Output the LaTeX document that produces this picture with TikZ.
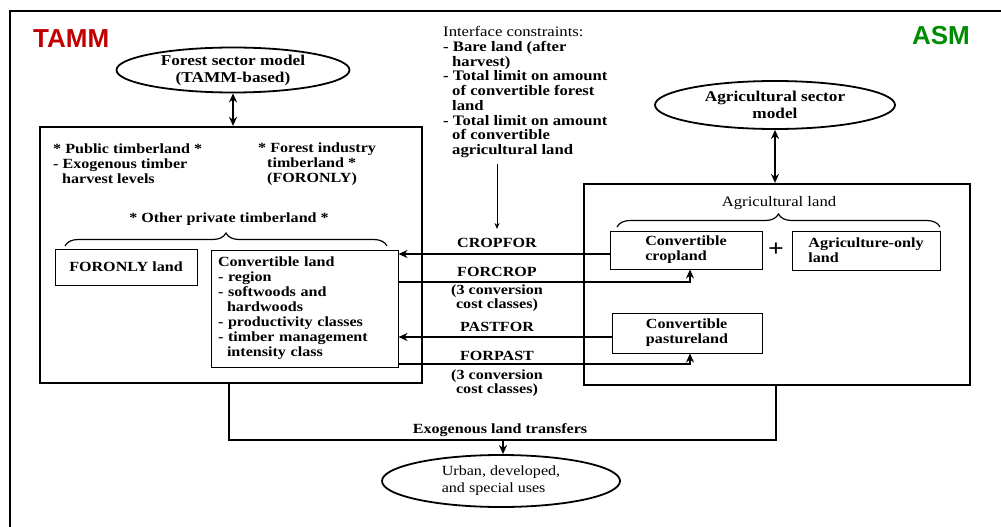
\documentclass[tikz,border=0pt]{standalone}
\usepackage{fontspec}
\setmainfont{Liberation Serif}[FakeStretch=1.15]
\newfontfamily\tammfont{Liberation Sans}
\usetikzlibrary{shapes.geometric,arrows.meta,decorations.pathreplacing}
\definecolor{tammred}{RGB}{192,0,0}
\definecolor{asmgreen}{RGB}{0,140,0}
\newcommand{\ind}{\hspace*{9pt}}
\begin{document}
\begin{tikzpicture}[x=1pt,y=-1pt,
 txt/.style={font=\bfseries\fontsize{14}{15}\selectfont, inner sep=0pt, align=left},
 rtxt/.style={font=\fontsize{14.5}{14.75}\selectfont, inner sep=0pt, align=left},
 lbl/.style={font=\bfseries\fontsize{14}{14}\selectfont, inner sep=0pt, align=center},
 model/.style={ellipse, draw, line width=1.8pt, inner sep=0pt, font=\bfseries\fontsize{15}{17}\selectfont, align=center},
 bigbox/.style={draw, line width=2.2pt, inner sep=0pt},
 landbox/.style={draw, line width=1pt},
 conn/.style={line width=2pt},
 arr/.style={line width=2pt, -{Stealth[length=9pt,width=8pt]}},
 dblarr/.style={line width=2pt, {Stealth[length=9pt,width=8pt]}-{Stealth[length=9pt,width=8pt]}},
 thinarr/.style={line width=1pt, -{Stealth[length=6pt,width=5pt]}},
 bracestyle/.style={decorate, decoration={brace, amplitude=13pt}, line width=1.2pt},
 cornertag/.style={font=\tammfont\bfseries\fontsize{26}{26}\selectfont, inner sep=0pt}
]
\useasboundingbox (0,0) rectangle (1001,527);
\draw[line width=1.5pt] (10,527) -- (10,11) -- (1001,11);

\node[cornertag, text=tammred, anchor=west] (tamm) at (33,39) {TAMM};
\node[cornertag, text=asmgreen, anchor=east] (asm) at (970,36) {ASM};

% forest side
\node[model, minimum width=233pt, minimum height=45pt] (fsm) at (233,70) {Forest sector model\\(TAMM-based)};
\node[bigbox, minimum width=382pt, minimum height=256pt] (lbox) at (231,255) {};
\draw[dblarr] (fsm.south) -- (fsm.south |- lbox.north);

\node[txt, anchor=west] (pub) at (53,164) {* Public timberland *\\- Exogenous timber\\\ind harvest levels};
\node[txt, anchor=west] (fit) at (258,164) {* Forest industry\\\ind timberland *\\\ind (FORONLY)};
\node[txt] (opt) at (229,219) {* Other private timberland *};
\coordinate (lbl1) at (65,246);
\coordinate (lbr1) at (387,246);
\draw[bracestyle] (lbl1) -- (lbr1);

\node[txt, landbox, minimum width=142pt, minimum height=36pt] (fol) at (126,267) {FORONLY land};
\node[txt, landbox, minimum height=117pt, text width=173pt, inner xsep=7pt] (cl) at (304.5,308.5)
 {Convertible land\\- region\\- softwoods and\\\ind hardwoods\\- productivity classes\\- timber management\\\ind intensity class};

% interface
\node[rtxt, anchor=west] (iface) at (443,92) {Interface constraints:\\\textbf{- Bare land (after}\\\textbf{\ind harvest)}\\\textbf{- Total limit on amount}\\\textbf{\ind of convertible forest}\\\textbf{\ind land}\\\textbf{- Total limit on amount}\\\textbf{\ind of convertible}\\\textbf{\ind agricultural land}};
\coordinate (ifend) at (497,229);
\draw[thinarr] ([yshift=-6pt]iface.south -| ifend) -- (ifend);

% agricultural side
\node[model, minimum width=240pt, minimum height=48pt] (asmm) at (775,105) {Agricultural sector\\model};
\node[bigbox, minimum width=386pt, minimum height=201pt] (rbox) at (777,284.5) {};
\draw[dblarr] (asmm.south) -- (asmm.south |- rbox.north);
\node[rtxt] (agl) at (779,203) {Agricultural land};
\coordinate (rbl) at (617,227);
\coordinate (rbr) at (940,227);
\draw[bracestyle] (rbl) -- (rbr);
\node[txt, landbox, minimum width=152pt, minimum height=38pt] (crop) at (686,250) {Convertible\\cropland};
\node[font=\bfseries\fontsize{24}{24}\selectfont, inner sep=0pt] (plus) at (776,250) {+};
\node[txt, landbox, minimum width=148pt, minimum height=39pt] (agonly) at (866,250.5) {Agriculture-only\\land};
\node[txt, landbox, minimum width=150pt, minimum height=40pt] (past) at (687,333) {Convertible\\pastureland};

% transfers
\draw[arr] ([yshift=-4pt]crop.west) -- ([yshift=-4pt]crop.west -| cl.east);
\coordinate (fc) at (690,282);
\draw[arr] (cl.east |- fc) -- (fc) -- (fc |- crop.south);
\draw[arr] ([yshift=-4pt]past.west) -- ([yshift=-4pt]past.west -| cl.east);
\coordinate (fp) at (690,364);
\draw[arr] (cl.east |- fp) -- (fp) -- (fp |- past.south);

\node[lbl] (cropfor) at (497,243) {CROPFOR};
\node[lbl] (forcrop) at (497,272) {FORCROP};
\node[lbl] (cc1) at (497,298) {(3 conversion\\cost classes)};
\node[lbl] (pastfor) at (497,327) {PASTFOR};
\node[lbl] (forpast) at (497,356) {FORPAST};
\node[lbl] (cc2) at (497,383) {(3 conversion\\cost classes)};

% exogenous
\coordinate (exl) at (229,440);
\coordinate (exr) at (776,440);
\draw[conn] (lbox.south -| exl) -- (exl) -- (exr) -- (rbox.south -| exr);
\node[lbl] (exo) at (500,430) {Exogenous land transfers};
\node[model, font=\fontsize{14}{17}\selectfont, align=left, minimum width=238pt, minimum height=52pt] (urban) at (501,481) {Urban, developed,\\and special uses};
\coordinate (exm) at (503,440);
\draw[arr] (exm) -- (exm |- urban.north);
\end{tikzpicture}
\end{document}
